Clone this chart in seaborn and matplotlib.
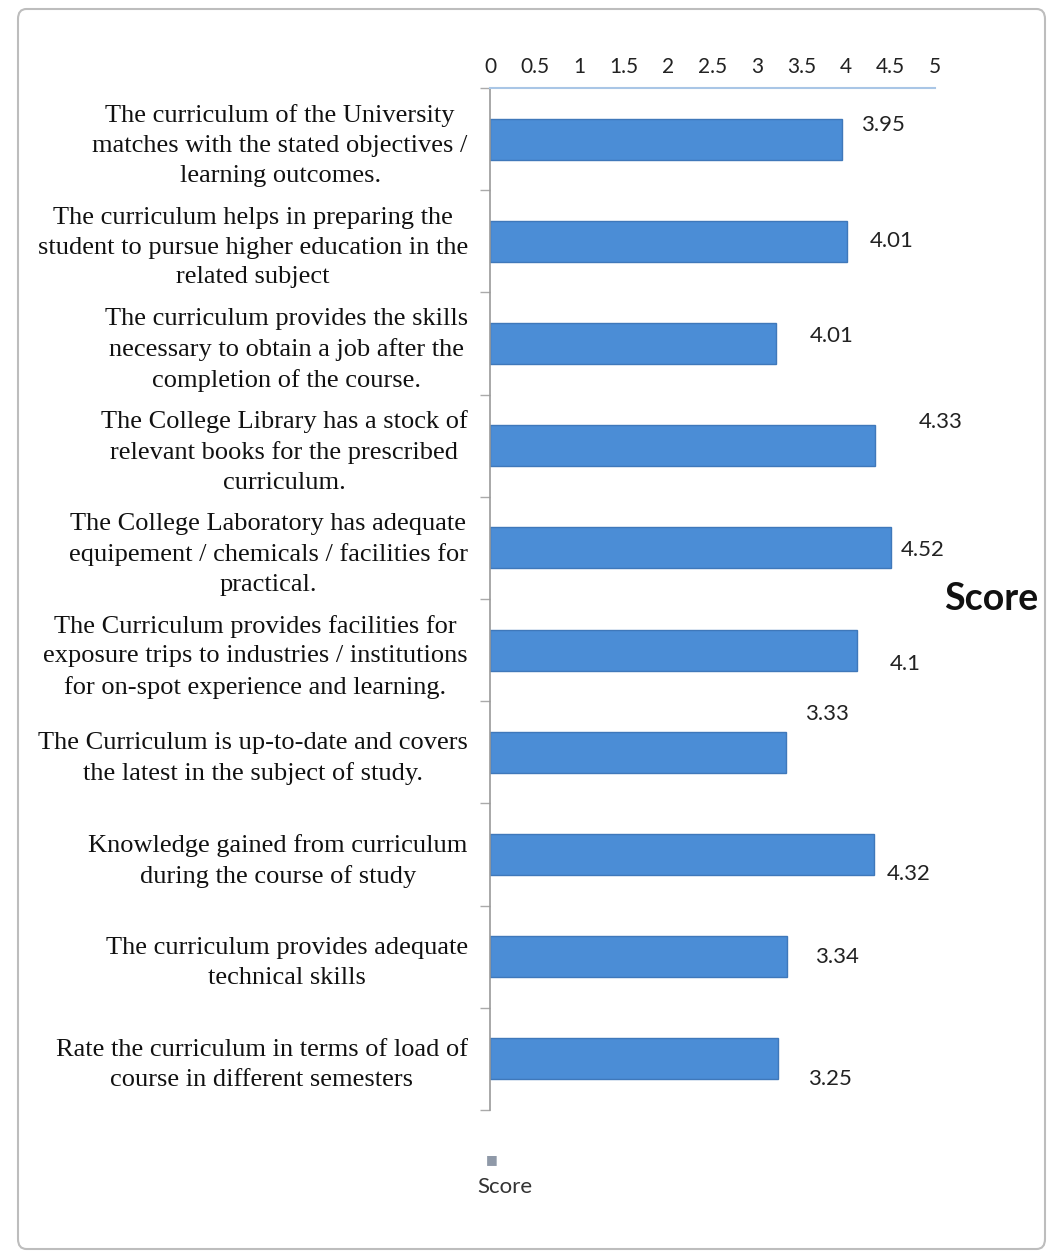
import numpy as np
import pandas as pd
import seaborn as sns
import matplotlib.pyplot as plt
from matplotlib.patches import FancyBboxPatch

# questions on the y axis, top to bottom
questions = [
    "The curriculum of the University\nmatches with the stated objectives /\nlearning outcomes.",
    "The curriculum helps in preparing the\nstudent to pursue higher education in the\nrelated subject",
    "The curriculum provides the skills\nnecessary to obtain a job after the\ncompletion of the course.",
    "The College Library has a stock of\nrelevant books for the prescribed\ncurriculum.",
    "The College Laboratory has adequate\nequipement / chemicals / facilities for\npractical.",
    "The Curriculum provides facilities for\nexposure trips to industries / institutions\nfor on-spot experience and learning.",
    "The Curriculum is up-to-date and covers\nthe latest in the subject of study.",
    "Knowledge gained from curriculum\nduring the course of study",
    "The curriculum provides adequate\ntechnical skills",
    "Rate the curriculum in terms of load of\ncourse in different semesters",
]
# bar lengths as drawn
scores = [3.95, 4.01, 3.21, 4.33, 4.5, 4.12, 3.33, 4.31, 3.34, 3.24]
# data labels as printed next to the bars
score_labels = ["3.95", "4.01", "4.01", "4.33", "4.52", "4.1", "3.33", "4.32", "3.34", "3.25"]
x_ticks = [0, 0.5, 1, 1.5, 2, 2.5, 3, 3.5, 4, 4.5, 5]

# hand placed label offsets (pixels from bar end)
label_offsets = [(19, 14), (23, 0), (34, 7), (43, 24), (10, -2), (33, -14),
                 (19, 38), (13, -20), (28, 0), (30, -20)]

bar_color = "#4b8dd6"

sns.set_style("white")
plt.rcParams["font.family"] = ["Lato", "DejaVu Sans"]

df = pd.DataFrame({"question": questions, "score": scores})

fig = plt.figure(figsize=(10.5, 12.57), dpi=100)
ax = fig.add_axes([490 / 1050, 1 - 1110 / 1257, 445 / 1050, 1022 / 1257])

sns.barplot(data=df, x="score", y="question", orient="h", color=bar_color,
            width=0.4, edgecolor="#3f78ba", linewidth=1.0, saturation=1, ax=ax)

ax.set_xlim(0, 5)
ax.set_ylim(9.5, -0.5)
ax.set_xticks(x_ticks)
ax.set_xticklabels([f"{t:g}" for t in x_ticks])
ax.xaxis.tick_top()
ax.tick_params(axis="x", length=0, pad=8, labelsize=15, colors="#222222")
ax.tick_params(axis="y", which="major", length=0, pad=16)
ax.set_yticks(np.arange(-0.5, 10, 1), minor=True)
ax.tick_params(axis="y", which="minor", left=True, length=7, color="#aaaaaa", width=1)
for lab in ax.get_yticklabels():
    lab.set_family(["Liberation Serif", "DejaVu Serif"])
    lab.set_fontsize(19)
    lab.set_multialignment("center")
    lab.set_linespacing(1.45)
    lab.set_color("#111111")
ax.set_xlabel("")
ax.set_ylabel("")

for side in ["right", "bottom"]:
    ax.spines[side].set_visible(False)
ax.spines["top"].set_color("#a9c6e6")
ax.spines["top"].set_linewidth(1.5)
ax.spines["left"].set_color("#999999")
ax.spines["left"].set_linewidth(1.2)

for i, (v, txt) in enumerate(zip(scores, score_labels)):
    dx, dy = label_offsets[i]
    ax.annotate(txt, xy=(v, i), xytext=(dx, dy), textcoords="offset pixels",
                ha="left", va="center", fontsize=16, color="#222222")

ax.text(1.02, 0.5, "Score", transform=ax.transAxes, ha="left", va="center",
        fontsize=27, fontweight="bold", color="#111111")

# legend below the plot
fig.text(492 / 1050, 1 - 1160 / 1257, "\u25a0", ha="center", va="center",
         fontsize=9, color="#8f99a8", family="DejaVu Sans")
fig.text(505 / 1050, 1 - 1187 / 1257, "Score", ha="center", va="center",
         fontsize=16, color="#333333")

# outer chart border
fig.patches.append(FancyBboxPatch((18 / 1050, 8 / 1257), 1027 / 1050, 1240 / 1257,
                                  boxstyle="round,pad=0,rounding_size=0.008",
                                  transform=fig.transFigure, fill=False,
                                  edgecolor="#bdbdbd", linewidth=1.5))

fig.savefig("out.png", dpi=100)
